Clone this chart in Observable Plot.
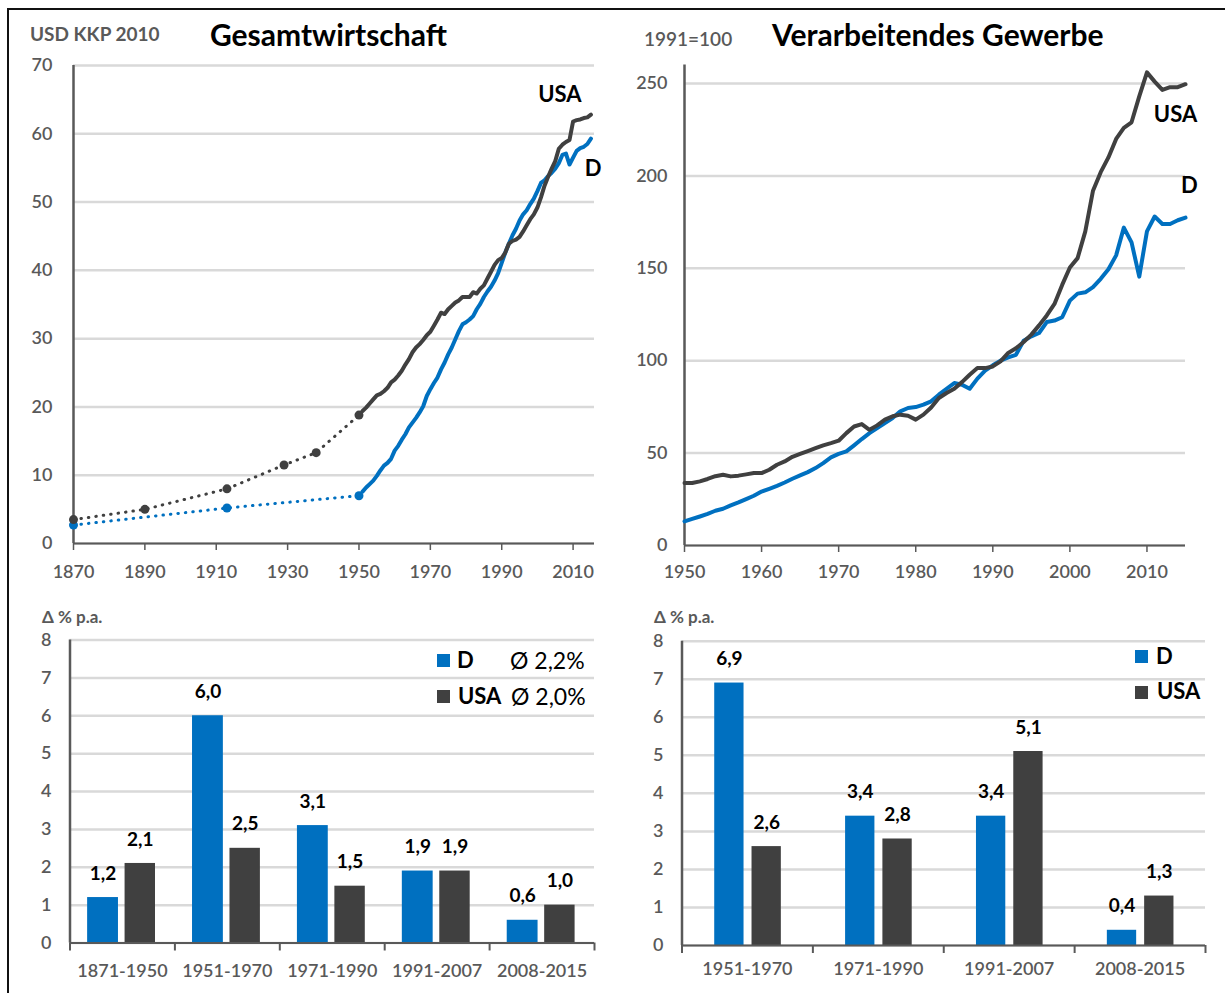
<!DOCTYPE html>
<html>
<head>
<meta charset="utf-8">
<script src="https://cdn.jsdelivr.net/npm/d3@7"></script>
<script src="https://cdn.jsdelivr.net/npm/@observablehq/plot@0.6"></script>
<style>
  html, body { margin: 0; padding: 0; background: #fff; overflow: hidden; }
  body { width: 1225px; height: 993px; position: relative; font-family: Lato, "Open Sans", sans-serif; }
  .frame { position: absolute; left: 7px; top: 8px; width: 1300px; height: 1100px; border: 2px solid #111; box-sizing: border-box; }
  .abs { position: absolute; white-space: nowrap; line-height: 1; }
  .unit { color: #595959; font-weight: 700; font-size: 19px; }
  .title { color: #000; font-weight: 700; font-size: 30px; }
  .delta { color: #595959; font-weight: 700; font-size: 17px; }
  .sq { position: absolute; width: 13px; height: 13px; }
  .lgb { color: #000; font-weight: 700; font-size: 22px; }
  .lgn { color: #000; font-weight: 400; font-size: 23px; }
</style>
</head>
<body>
<div class="frame"></div>

<div class="abs unit" style="left:30px; top:24px;">USD KKP 2010</div>
<div class="abs title" style="left:210px; top:19px;">Gesamtwirtschaft</div>
<div class="abs unit" style="left:644px; top:29px; font-weight:600;">1991=100</div>
<div class="abs title" style="left:772px; top:19px;">Verarbeitendes Gewerbe</div>

<div id="p1" class="abs" style="left:0px; top:50px;"></div>
<div id="p2" class="abs" style="left:612px; top:50px;"></div>

<div class="abs delta" style="left:42px; top:608px;">Δ % p.a.</div>
<div class="abs delta" style="left:654px; top:608px;">Δ % p.a.</div>

<div id="p3" class="abs" style="left:0px; top:630px;"></div>
<div id="p4" class="abs" style="left:612px; top:630px;"></div>

<div id="leg1"></div>
<div id="leg2"></div>

<script>
// ---------- colours ----------
const blue = "#0070C0";
const dark = "#404040";
const gridColor = "#d9d9d9";
const axisColor = "#595959";

// ---------- Gesamtwirtschaft (USD KKP 2010) ----------
// historic benchmark years (dotted)
const gwHistYearsUSA = [1870, 1890, 1913, 1929, 1938, 1950];
const gwHistUSA      = [3.5, 5.0, 8.0, 11.5, 13.3, 18.8];
const gwHistYearsD   = [1870, 1913, 1950];
const gwHistD        = [2.7, 5.2, 7.0];
// annual 1951-2015 (solid)
const gwYears = d3.range(1951, 2016);
const gwD = [
  7.6, 8.2, 8.7, 9.2, 9.9, 10.7, 11.4, 11.8, 12.4, 13.6,
  14.3, 15.2, 16.0, 17.0, 17.7, 18.4, 19.2, 20.1, 21.6, 22.6,
  23.5, 24.3, 25.5, 26.5, 27.7, 28.7, 29.9, 31.1, 32.1, 32.4,
  32.8, 33.3, 34.3, 35.1, 36.1, 36.9, 37.6, 38.5, 39.6, 41.1,
  42.6, 43.9, 45.1, 46.1, 47.3, 48.2, 48.8, 49.7, 50.5, 51.6,
  52.8, 53.2, 53.8, 54.3, 54.9, 55.7, 56.9, 57.1, 55.5, 56.5,
  57.5, 57.9, 58.1, 58.5, 59.3
];
const gwUSA = [
  19.4, 19.9, 20.5, 21.1, 21.7, 21.9, 22.3, 22.8, 23.6, 24.0,
  24.6, 25.3, 26.2, 27.0, 28.0, 28.7, 29.2, 29.8, 30.5, 31.0,
  31.9, 32.8, 33.8, 33.6, 34.3, 34.8, 35.3, 35.6, 36.1, 36.1,
  36.1, 36.8, 36.6, 37.3, 37.8, 38.8, 39.8, 40.8, 41.5, 41.8,
  42.6, 43.9, 44.3, 44.5, 44.9, 45.7, 46.6, 47.5, 48.2, 49.2,
  50.7, 52.4, 53.7, 54.9, 56.0, 57.8, 58.4, 58.8, 59.1, 61.8,
  62.0, 62.1, 62.3, 62.4, 62.8
];
const gwYTicks = [0, 10, 20, 30, 40, 50, 60, 70];
const gwXTicks = [1870, 1890, 1910, 1930, 1950, 1970, 1990, 2010];

// ---------- Verarbeitendes Gewerbe (1991=100) ----------
const vgYears = d3.range(1950, 2016);
const vgD = [
  13.0, 14.4, 15.7, 17.1, 18.8, 19.9, 21.7, 23.3, 25.1, 26.9,
  29.2, 30.7, 32.3, 34.1, 36.1, 37.9, 39.7, 41.9, 44.6, 47.7,
  49.6, 50.9, 54.2, 57.6, 60.8, 63.5, 66.2, 69.0, 72.6, 74.4,
  74.9, 76.2, 78.0, 81.6, 84.8, 87.9, 87.0, 84.8, 90.3, 94.6,
  97.5, 100.0, 101.8, 103.2, 110.8, 113.2, 115.0, 120.9, 121.7, 123.5,
  132.5, 136.3, 137.0, 139.8, 144.3, 149.5, 157.0, 172.0, 164.0, 145.5,
  170.0, 178.0, 174.0, 174.0, 176.0, 177.4
];
const vgUSA = [
  33.8, 33.8, 34.7, 36.0, 37.5, 38.3, 37.4, 37.8, 38.5, 39.2,
  39.2, 41.0, 43.7, 45.5, 48.0, 49.6, 51.1, 52.7, 54.2, 55.4,
  56.7, 60.8, 64.4, 65.7, 62.6, 65.0, 68.1, 69.9, 70.8, 70.2,
  68.1, 70.8, 74.7, 79.8, 82.5, 84.8, 88.4, 92.4, 96.0, 96.0,
  96.9, 99.6, 104.2, 106.7, 110.1, 114.1, 119.1, 124.5, 130.7, 141.0,
  150.4, 155.5, 170.0, 192.0, 202.0, 210.0, 220.0, 226.0, 229.0, 243.0,
  256.0, 251.0, 246.5, 248.0, 248.0, 249.6
];
const vgYTicks = [0, 50, 100, 150, 200, 250];
const vgXTicks = [1950, 1960, 1970, 1980, 1990, 2000, 2010];

// ---------- growth rates, % p.a. ----------
const gwPeriods = ["1871-1950", "1951-1970", "1971-1990", "1991-2007", "2008-2015"];
const gwRateD   = [1.2, 6.0, 3.1, 1.9, 0.6];
const gwRateUSA = [2.1, 2.5, 1.5, 1.9, 1.0];
const gwAvgD = 2.2, gwAvgUSA = 2.0;

const vgPeriods = ["1951-1970", "1971-1990", "1991-2007", "2008-2015"];
const vgRateD   = [6.9, 3.4, 3.4, 0.4];
const vgRateUSA = [2.6, 2.8, 5.1, 1.3];

const rateTicks = [0, 1, 2, 3, 4, 5, 6, 7, 8];
const countries = ["D", "USA"];
const countryColor = {D: blue, USA: dark};

// ---------- helpers ----------
const de = v => v.toFixed(1).replace(".", ",");
const zip = (xs, ys) => xs.map((x, i) => ({x, y: ys[i]}));
const baseStyle = {
  fontFamily: "Lato, 'Open Sans', sans-serif",
  fontSize: "18px",
  fontWeight: 600,
  color: "#595959",
  background: "transparent",
  overflow: "visible"
};
const labelText = (x, y, text) =>
  Plot.text([{x, y, text}], {x: "x", y: "y", text: "text", fill: "#000", fontSize: 22, fontWeight: 700});

// ---------- chart 1: Gesamtwirtschaft ----------
const p1 = Plot.plot({
  width: 612, height: 550,
  marginLeft: 73, marginRight: 18, marginTop: 15, marginBottom: 57,
  style: baseStyle,
  x: {domain: [1870, 2016], ticks: gwXTicks, tickFormat: d => String(d), tickSize: 0, tickPadding: 22, label: null},
  y: {domain: [0, 70], ticks: gwYTicks, tickSize: 0, tickPadding: 21, label: null},
  marks: [
    Plot.ruleY(gwYTicks, {stroke: gridColor, strokeWidth: 2.5}),
    Plot.ruleX(gwXTicks, {y1: 0, y2: 0, insetBottom: -7, stroke: axisColor, strokeWidth: 1.5}),
    Plot.ruleX([1870], {stroke: axisColor, strokeWidth: 2.5}),
    Plot.ruleY([0], {stroke: axisColor, strokeWidth: 2}),
    Plot.line(zip(gwHistYearsD, gwHistD), {x: "x", y: "y", stroke: blue, strokeWidth: 3, strokeDasharray: "0.5 7", strokeLinecap: "round"}),
    Plot.dot(zip(gwHistYearsD, gwHistD), {x: "x", y: "y", r: 4.5, fill: blue}),
    Plot.line(zip(gwHistYearsUSA, gwHistUSA), {x: "x", y: "y", stroke: dark, strokeWidth: 3, strokeDasharray: "0.5 7", strokeLinecap: "round"}),
    Plot.dot(zip(gwHistYearsUSA, gwHistUSA), {x: "x", y: "y", r: 4.5, fill: dark}),
    Plot.line(zip(gwYears, gwD), {x: "x", y: "y", stroke: blue, strokeWidth: 4, strokeLinejoin: "round"}),
    Plot.line(zip(gwYears, gwUSA), {x: "x", y: "y", stroke: dark, strokeWidth: 4, strokeLinejoin: "round"}),
    labelText(2006.3, 65.7, "USA"),
    labelText(2015.6, 54.9, "D")
  ]
});
document.getElementById("p1").appendChild(p1);

// ---------- chart 2: Verarbeitendes Gewerbe ----------
const p2 = Plot.plot({
  width: 613, height: 550,
  marginLeft: 72, marginRight: 40, marginTop: 14.5, marginBottom: 55,
  style: baseStyle,
  x: {domain: [1950, 2015], ticks: vgXTicks, tickFormat: d => String(d), tickSize: 0, tickPadding: 20, label: null},
  y: {domain: [0, 260], ticks: vgYTicks, tickSize: 0, tickPadding: 17, label: null},
  marks: [
    Plot.ruleY(vgYTicks, {stroke: gridColor, strokeWidth: 2.5}),
    Plot.ruleX(vgXTicks, {y1: 0, y2: 0, insetBottom: -7, stroke: axisColor, strokeWidth: 1.5}),
    Plot.ruleX([1950], {stroke: axisColor, strokeWidth: 2.5}),
    Plot.ruleY([0], {stroke: axisColor, strokeWidth: 2}),
    Plot.line(zip(vgYears, vgD), {x: "x", y: "y", stroke: blue, strokeWidth: 4, strokeLinejoin: "round"}),
    Plot.line(zip(vgYears, vgUSA), {x: "x", y: "y", stroke: dark, strokeWidth: 4, strokeLinejoin: "round"}),
    labelText(2013.7, 232.7, "USA"),
    labelText(2015.5, 194.3, "D")
  ]
});
document.getElementById("p2").appendChild(p2);

// ---------- bar charts ----------
function barChart({periods, rateD, rateUSA, width, height, marginLeft, marginRight, marginTop, marginBottom, tickPadding, slots}) {
  const rows = periods.flatMap((p, i) => [
    {i, period: p, country: "D", value: rateD[i]},
    {i, period: p, country: "USA", value: rateUSA[i]}
  ]);
  const bounds = d3.range(0, periods.length + 1);
  const marks = [
    Plot.ruleY(rateTicks, {stroke: gridColor, strokeWidth: 2.5})
  ];
  for (const c of countries) {
    const data = rows.filter(d => d.country === c);
    const [a, b] = slots[c];
    marks.push(Plot.rect(data, {x1: d => d.i + a, x2: d => d.i + b, y1: 0, y2: "value", fill: countryColor[c]}));
    marks.push(Plot.text(data, {x: d => d.i + (a + b) / 2, y: "value", text: d => de(d.value), dy: -24, fill: "#000", fontSize: 19, fontWeight: 700}));
  }
  marks.push(
    Plot.ruleX([0], {stroke: axisColor, strokeWidth: 2.5}),
    Plot.ruleY([0], {stroke: axisColor, strokeWidth: 2}),
    Plot.ruleX(bounds, {y1: 0, y2: 0, insetBottom: -8, stroke: axisColor, strokeWidth: 2})
  );
  return Plot.plot({
    width, height, marginLeft, marginRight, marginTop, marginBottom,
    style: baseStyle,
    x: {domain: [0, periods.length], ticks: periods.map((_, i) => i + 0.5), tickFormat: v => periods[Math.floor(v)], tickSize: 0, tickPadding, label: null},
    y: {domain: [0, 8], ticks: rateTicks, tickSize: 0, tickPadding: 18.5, label: null},
    marks
  });
}

document.getElementById("p3").appendChild(barChart({
  periods: gwPeriods, rateD: gwRateD, rateUSA: gwRateUSA,
  width: 612, height: 363, marginLeft: 69.5, marginRight: 18, marginTop: 9.5, marginBottom: 50.5,
  tickPadding: 21,
  slots: {D: [0.168, 0.462], USA: [0.525, 0.815]}
}));

document.getElementById("p4").appendChild(barChart({
  periods: vgPeriods, rateD: vgRateD, rateUSA: vgRateUSA,
  width: 613, height: 363, marginLeft: 69.5, marginRight: 20, marginTop: 10.7, marginBottom: 48,
  tickPadding: 17,
  slots: {D: [0.25, 0.474], USA: [0.535, 0.759]}
}));

// ---------- legends ----------
function legend(el, items) {
  for (const it of items) {
    const sq = document.createElement("div");
    sq.className = "sq";
    sq.style.left = it.sx + "px"; sq.style.top = it.sy + "px"; sq.style.background = countryColor[it.c];
    el.appendChild(sq);
    const t = document.createElement("div");
    t.className = "abs lgb";
    t.style.left = it.tx + "px"; t.style.top = it.ty + "px";
    t.textContent = it.c;
    el.appendChild(t);
    if (it.avg != null) {
      const a = document.createElement("div");
      a.className = "abs lgn";
      a.style.left = it.ax + "px"; a.style.top = it.ty + "px";
      a.textContent = "Ø " + de(it.avg) + "%";
      el.appendChild(a);
    }
  }
}
legend(document.getElementById("leg1"), [
  {c: "D",   sx: 437, sy: 654, tx: 457, ty: 649, avg: gwAvgD,   ax: 510},
  {c: "USA", sx: 437, sy: 690, tx: 458, ty: 685, avg: gwAvgUSA, ax: 511}
]);
legend(document.getElementById("leg2"), [
  {c: "D",   sx: 1135, sy: 650, tx: 1156, ty: 645},
  {c: "USA", sx: 1135, sy: 686, tx: 1157, ty: 680}
]);
</script>
</body>
</html>
